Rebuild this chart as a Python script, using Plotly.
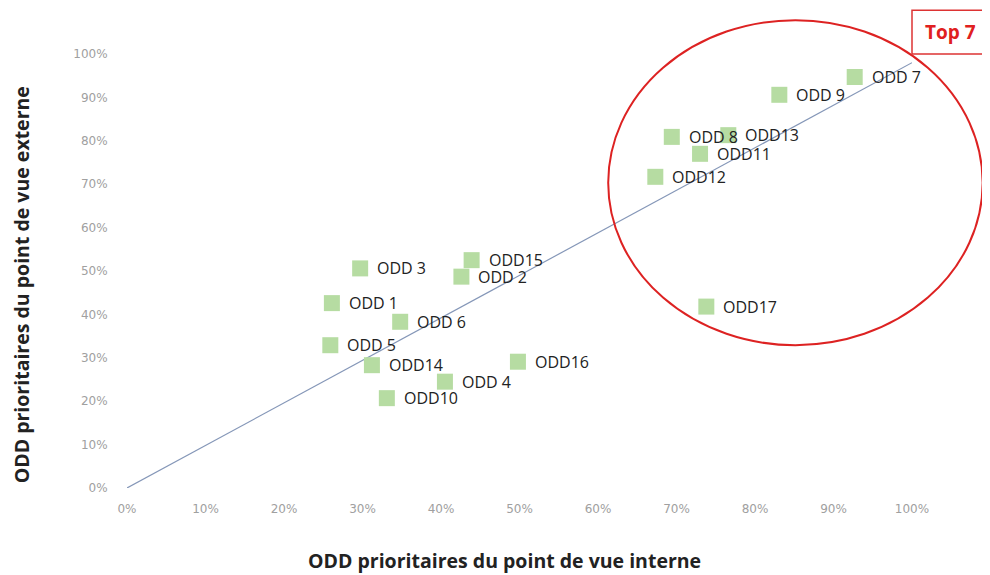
import plotly.graph_objects as go

labels = ["ODD 1", "ODD 2", "ODD 3", "ODD 4", "ODD 5", "ODD 6", "ODD 7", "ODD 8", "ODD 9",
          "ODD10", "ODD11", "ODD12", "ODD13", "ODD14", "ODD15", "ODD16", "ODD17"]
interne = [0.261, 0.426, 0.297, 0.405, 0.259, 0.348, 0.927, 0.694, 0.831,
           0.331, 0.730, 0.673, 0.766, 0.312, 0.439, 0.498, 0.738]
externe = [0.426, 0.487, 0.506, 0.245, 0.329, 0.383, 0.947, 0.809, 0.906,
           0.207, 0.770, 0.717, 0.813, 0.283, 0.525, 0.291, 0.418]
trend_x = [0.0, 1.0]
trend_y = [0.0, 0.98]
tick_vals = [i / 10 for i in range(11)]
tick_text = [f"{i*10}%" for i in range(11)]

fig = go.Figure()
fig.add_trace(go.Scatter(x=trend_x, y=trend_y, mode="lines",
                         line=dict(color="#8597b8", width=1.2), hoverinfo="skip"))
fig.add_trace(go.Scatter(x=interne, y=externe, mode="markers",
                         marker=dict(symbol="square", size=16, color="#b6dca2"),
                         text=labels, hoverinfo="text"))

for lab, xv, yv in zip(labels, interne, externe):
    fig.add_annotation(x=xv, y=yv, text=lab, showarrow=False, xanchor="left",
                       yanchor="middle", xshift=15,
                       font=dict(family="Open Sans", size=16, color="#222222"))

# Red ellipse highlighting top 7 (paper coordinates)
fig.add_shape(type="circle", xref="paper", yref="paper",
              x0=0.613, x1=1.090, y0=0.329, y1=1.078,
              line=dict(color="#dd2222", width=2), fillcolor="rgba(0,0,0,0)")
fig.add_shape(type="rect", xref="paper", yref="paper",
              x0=1.0, x1=1.097, y0=1.0, y1=1.101,
              line=dict(color="#dd3333", width=1.5), fillcolor="white")
fig.add_annotation(xref="paper", yref="paper", x=1.0485, y=1.0505, text="<b>Top 7</b>",
                   showarrow=False, xanchor="center", yanchor="middle",
                   font=dict(family="Open Sans", size=19, color="#e02020"))

fig.add_annotation(xref="paper", yref="paper", x=-0.1345, y=0.468, textangle=-90,
                   text="<b>ODD prioritaires du point de vue externe</b>", showarrow=False,
                   xanchor="center", yanchor="middle",
                   font=dict(family="Open Sans", size=19.5, color="#222222"))
fig.add_annotation(xref="paper", yref="paper", x=0.4815, y=-0.168,
                   text="<b>ODD prioritaires du point de vue interne</b>", showarrow=False,
                   xanchor="center", yanchor="middle",
                   font=dict(family="Open Sans", size=19.5, color="#222222"))

fig.update_layout(
    width=982, height=567,
    margin=dict(l=119, r=78, t=46, b=87),
    plot_bgcolor="white", paper_bgcolor="white",
    showlegend=False,
    xaxis=dict(range=[0, 1], tickvals=tick_vals, ticktext=tick_text, showgrid=False,
               zeroline=False, showline=False, ticks="outside", ticklen=10,
               tickcolor="rgba(0,0,0,0)",
               tickfont=dict(family="DejaVu Sans", size=12, color="#a0a0a0")),
    yaxis=dict(range=[0, 1], tickvals=tick_vals, ticktext=tick_text, showgrid=False,
               zeroline=False, showline=False, ticks="outside", ticklen=16,
               tickcolor="rgba(0,0,0,0)",
               tickfont=dict(family="DejaVu Sans", size=12, color="#a0a0a0")),
)

fig.write_html("out.html")
